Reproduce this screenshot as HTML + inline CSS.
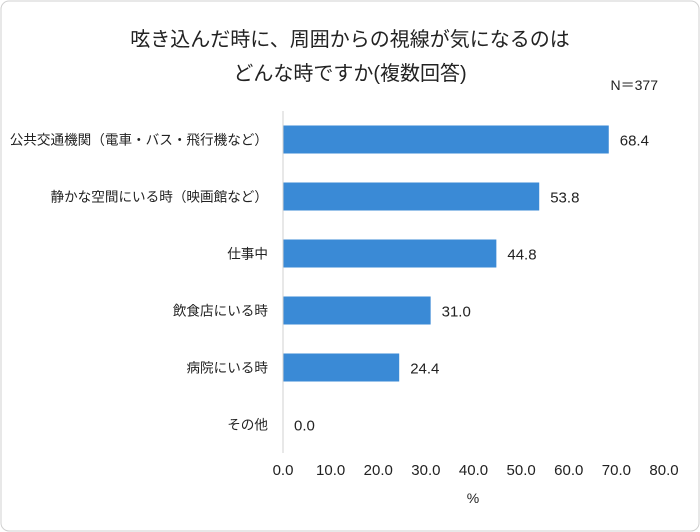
<!DOCTYPE html>
<html><head><meta charset="utf-8">
<style>
body{margin:0;background:#fff;font-family:"Liberation Sans","Noto Sans CJK JP",sans-serif;}
#wrap{position:relative;width:700px;height:532px;overflow:hidden;}
</style></head>
<body>
<div id="wrap">
<svg id="chart" width="700" height="532" xmlns="http://www.w3.org/2000/svg">
<rect x="1" y="1" width="698" height="530" rx="8" fill="#fff" stroke="#d0d0d0"/>
<text x="350" y="46" text-anchor="middle" font-size="20" fill="#222" font-family="Liberation Sans, Noto Sans CJK JP, sans-serif">呟き込んだ時に、周囲からの視線が気になるのは</text>
<text x="350" y="80" text-anchor="middle" font-size="20" fill="#222" font-family="Liberation Sans, Noto Sans CJK JP, sans-serif">どんな時ですか(複数回答)</text>
<text x="658" y="90" text-anchor="end" font-size="14" fill="#222" font-family="Liberation Sans, Noto Sans CJK JP, sans-serif">N＝377</text>
<g id="bars"></g>
<g id="xaxis"></g>
<text x="473" y="503" text-anchor="middle" font-size="14" fill="#222">%</text>
</svg>
</div>
<script>
const categories=["公共交通機関（電車・バス・飛行機など）","静かな空間にいる時（映画館など）","仕事中","飲食店にいる時","病院にいる時","その他"];
const values=[68.4,53.8,44.8,31.0,24.4,0.0];
const tickValues=[0,10,20,30,40,50,60,70,80];
const NS="http://www.w3.org/2000/svg";
const x0=283,x1=664,xMax=80;
function xs(v){return x0+(v/xMax)*(x1-x0);}
const yTop=111,band=57;
function yc(i){return yTop+band*i+band/2;}
const bars=document.getElementById('bars');
const font='Liberation Sans, Noto Sans CJK JP, sans-serif';
categories.forEach((c,i)=>{
  const r=document.createElementNS(NS,'rect');
  r.setAttribute('x',xs(0));r.setAttribute('y',yc(i)-14);
  r.setAttribute('width',xs(values[i])-xs(0));r.setAttribute('height',28);
  r.setAttribute('fill','#3a8ad6');
  
  
  bars.appendChild(r);
  const l=document.createElementNS(NS,'text');
  l.setAttribute('x',268);l.setAttribute('y',yc(i)+5);
  l.setAttribute('text-anchor','end');l.setAttribute('font-size','13.6');l.setAttribute('fill','#222');l.setAttribute('font-family',font);
  l.textContent=c;
  
  
  bars.appendChild(l);
  const v=document.createElementNS(NS,'text');
  v.setAttribute('x',xs(values[i])+11);v.setAttribute('y',yc(i)+6);
  v.setAttribute('font-size','15');v.setAttribute('fill','#222');v.setAttribute('font-family',font);
  v.textContent=values[i].toFixed(1);
  
  
  bars.appendChild(v);
});
const ax=document.getElementById('xaxis');
const line=document.createElementNS(NS,'line');
line.setAttribute('x1',x0);line.setAttribute('x2',x0);line.setAttribute('y1',yTop);line.setAttribute('y2',yTop+band*6);
line.setAttribute('stroke','#d0d0d0');


ax.appendChild(line);
tickValues.forEach(t=>{
  const tx=document.createElementNS(NS,'text');
  tx.setAttribute('x',xs(t));tx.setAttribute('y',475);
  tx.setAttribute('text-anchor','middle');tx.setAttribute('font-size','15');tx.setAttribute('fill','#222');tx.setAttribute('font-family',font);
  tx.textContent=t.toFixed(1);
  
  
  ax.appendChild(tx);
});
</script>
</body></html>
